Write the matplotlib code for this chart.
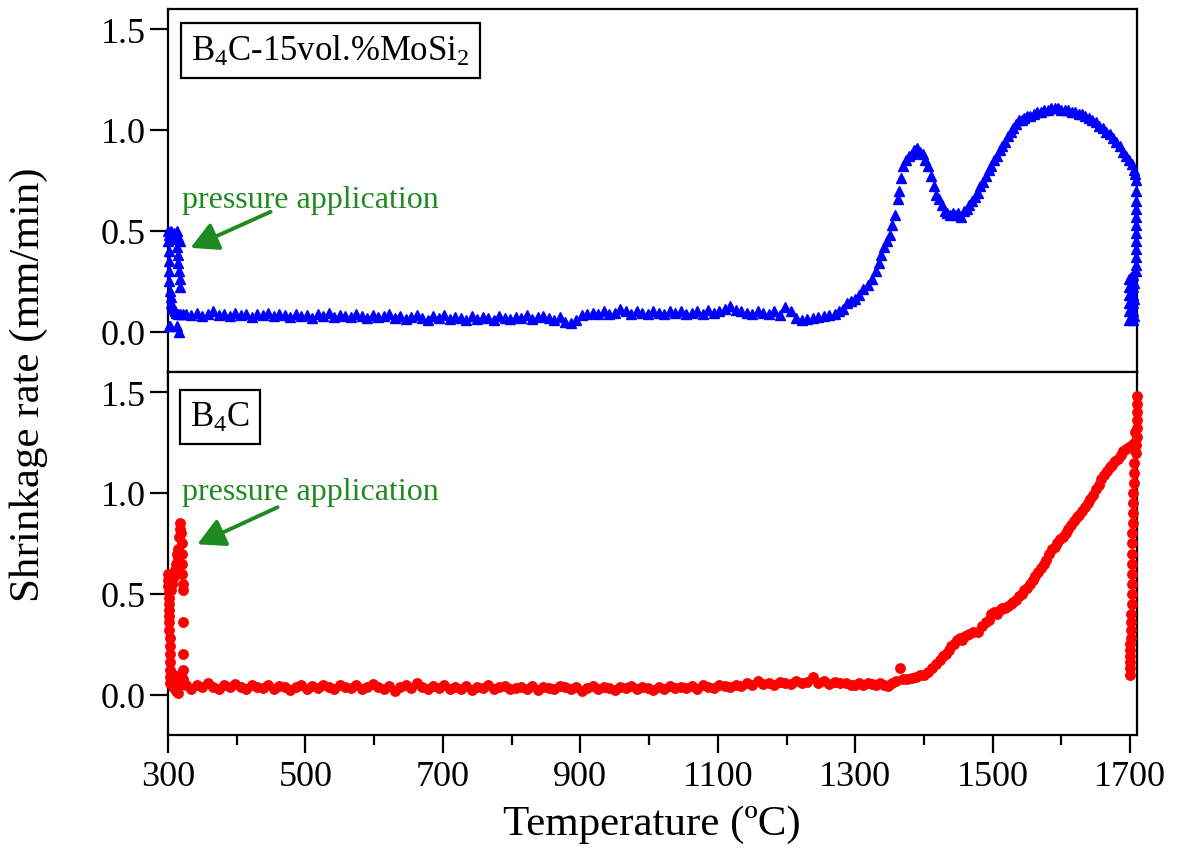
import matplotlib
matplotlib.use("Agg")
import matplotlib.pyplot as plt
from matplotlib.ticker import MultipleLocator
from matplotlib.patches import FancyArrowPatch

plt.rcParams['font.family'] = ['Liberation Serif', 'DejaVu Serif']
plt.rcParams['mathtext.fontset'] = 'custom'
plt.rcParams['mathtext.rm'] = 'Liberation Serif'
plt.rcParams['mathtext.it'] = 'Liberation Serif:italic'

# ---------------- data: B4C-15vol.%MoSi2 (blue triangles) ----------------
mosi2_start_T = [300, 300, 301, 301, 302, 302, 302, 303, 304, 305, 306, 308, 310, 312, 315, 318, 322,
                 303, 305, 307, 309, 311, 313, 315, 317,
                 313, 314, 315, 316, 317, 318,
                 301, 303, 313, 316]
mosi2_start_rate = [0.50, 0.45, 0.48, 0.40, 0.35, 0.30, 0.25, 0.20, 0.17, 0.14, 0.12, 0.11, 0.10, 0.095, 0.09, 0.09, 0.09,
                    0.48, 0.50, 0.47, 0.49, 0.46, 0.50, 0.47, 0.45,
                    0.42, 0.38, 0.34, 0.30, 0.26, 0.22,
                    0.03, 0.03, 0.03, 0.00]

mosi2_flat_T = list(range(326, 1263, 8))
mosi2_flat_rate = [0.09, 0.085, 0.095, 0.08, 0.09, 0.10, 0.085, 0.09, 0.08, 0.095,
                   0.085, 0.09, 0.075, 0.09, 0.085, 0.095, 0.08, 0.09, 0.085, 0.075,
                   0.09, 0.08, 0.085, 0.07, 0.09, 0.08, 0.095, 0.075, 0.085, 0.08,
                   0.075, 0.09, 0.08, 0.07, 0.085, 0.075, 0.08, 0.09, 0.07, 0.08,
                   0.065, 0.075, 0.085, 0.07, 0.06, 0.08, 0.07, 0.085, 0.065, 0.075,
                   0.07, 0.06, 0.08, 0.065, 0.075, 0.07, 0.06, 0.08, 0.07, 0.065,
                   0.075, 0.07, 0.085, 0.065, 0.075, 0.08, 0.07, 0.06, 0.075, 0.05,
                   0.045, 0.06, 0.085, 0.09, 0.095, 0.09, 0.10, 0.09, 0.095, 0.11,
                   0.10, 0.09, 0.10, 0.095, 0.09, 0.10, 0.095, 0.09, 0.10, 0.095,
                   0.10, 0.09, 0.095, 0.10, 0.09, 0.105, 0.095, 0.10, 0.11, 0.125,
                   0.105, 0.10, 0.095, 0.09, 0.10, 0.095, 0.09, 0.10, 0.085, 0.12,
                   0.10, 0.07, 0.06, 0.065, 0.07, 0.075, 0.08, 0.085]

mosi2_curve_T = [1270, 1276, 1282, 1288, 1294, 1300, 1306, 1312, 1318, 1324, 1330, 1334, 1338, 1342, 1346,
                 1350, 1354, 1358, 1362, 1364, 1367, 1370, 1374, 1378, 1382, 1386, 1390, 1394, 1398, 1402,
                 1406, 1410, 1414, 1418, 1422, 1426, 1430, 1434, 1438, 1442, 1446, 1450, 1454, 1458, 1462,
                 1466, 1470, 1474, 1478, 1482, 1486, 1490, 1494, 1498, 1502, 1506, 1510, 1514, 1518, 1522,
                 1526, 1530, 1534, 1538, 1542, 1546, 1550, 1555, 1560, 1565, 1570, 1575, 1580, 1585, 1590,
                 1595, 1600, 1605, 1610, 1615, 1620, 1625, 1630, 1635, 1640, 1645, 1650, 1655, 1660, 1665,
                 1670, 1675, 1680, 1685, 1690, 1694, 1698, 1702, 1705, 1707]
mosi2_curve_rate = [0.09, 0.10, 0.11, 0.14, 0.15, 0.16, 0.18, 0.21, 0.23, 0.26, 0.30, 0.34, 0.38, 0.42, 0.45,
                    0.48, 0.53, 0.58, 0.66, 0.70, 0.76, 0.82, 0.85, 0.87, 0.88, 0.90, 0.91, 0.89, 0.88, 0.85,
                    0.82, 0.77, 0.72, 0.68, 0.66, 0.63, 0.60, 0.59, 0.58, 0.59, 0.58, 0.59, 0.57, 0.60, 0.61,
                    0.63, 0.65, 0.67, 0.69, 0.72, 0.74, 0.77, 0.80, 0.82, 0.85, 0.87, 0.90, 0.92, 0.94, 0.97,
                    0.99, 1.01, 1.03, 1.05, 1.05, 1.06, 1.07, 1.07, 1.08, 1.09, 1.09, 1.10, 1.10, 1.11, 1.11,
                    1.11, 1.10, 1.10, 1.10, 1.09, 1.09, 1.08, 1.08, 1.07, 1.06, 1.05, 1.04, 1.02, 1.01, 0.99,
                    0.98, 0.96, 0.94, 0.92, 0.89, 0.87, 0.85, 0.83, 0.80, 0.78]

mosi2_end_T = [1708, 1708, 1708, 1708, 1708, 1709, 1709, 1709, 1709, 1709, 1708, 1708,
               1698, 1698, 1698, 1698, 1698, 1698, 1701, 1701, 1701, 1701, 1701, 1701,
               1704, 1704, 1704, 1704, 1704, 1704, 1706, 1706, 1706]
mosi2_end_rate = [0.75, 0.70, 0.65, 0.61, 0.57, 0.53, 0.49, 0.45, 0.41, 0.37, 0.33, 0.30,
                  0.06, 0.10, 0.14, 0.18, 0.22, 0.26, 0.07, 0.11, 0.15, 0.19, 0.23, 0.27,
                  0.06, 0.10, 0.14, 0.18, 0.22, 0.28, 0.08, 0.16, 0.24]

# ---------------- data: B4C (red circles) ----------------
b4c_start_T = [300, 300, 300, 301, 301, 301, 302, 302, 302, 302, 303, 303, 303, 303, 303, 303, 303,
               304, 306, 307, 308, 310, 311,
               312, 313, 314, 315, 316, 317, 318, 319,
               320, 320, 321, 321, 322, 322,
               322, 322, 322, 322,
               305, 307, 309, 311, 313, 315, 317, 319]
b4c_start_rate = [0.60, 0.57, 0.54, 0.51, 0.48, 0.45, 0.42, 0.39, 0.36, 0.32, 0.28, 0.24, 0.20, 0.16, 0.12, 0.09, 0.06,
                  0.52, 0.55, 0.60, 0.58, 0.62, 0.60,
                  0.65, 0.70, 0.68, 0.72, 0.78, 0.82, 0.85, 0.80,
                  0.75, 0.70, 0.65, 0.60, 0.55, 0.52,
                  0.36, 0.20, 0.12, 0.08,
                  0.08, 0.04, 0.10, 0.02, 0.06, 0.01, 0.05, 0.09]

b4c_flat_T = list(range(326, 1295, 8))
b4c_flat_rate = [0.05, 0.03, 0.05, 0.04, 0.06, 0.04, 0.03, 0.05, 0.04, 0.055,
                 0.04, 0.03, 0.05, 0.04, 0.035, 0.05, 0.03, 0.045, 0.04, 0.025,
                 0.04, 0.05, 0.03, 0.045, 0.035, 0.05, 0.04, 0.03, 0.05, 0.04,
                 0.035, 0.05, 0.03, 0.04, 0.055, 0.04, 0.03, 0.045, 0.02, 0.04,
                 0.05, 0.035, 0.06, 0.04, 0.03, 0.045, 0.035, 0.05, 0.03, 0.04,
                 0.03, 0.045, 0.025, 0.04, 0.035, 0.05, 0.03, 0.04, 0.045, 0.03,
                 0.035, 0.04, 0.03, 0.045, 0.025, 0.04, 0.035, 0.03, 0.045, 0.04,
                 0.03, 0.04, 0.02, 0.035, 0.045, 0.03, 0.04, 0.035, 0.025, 0.04,
                 0.035, 0.045, 0.03, 0.04, 0.035, 0.025, 0.04, 0.03, 0.045, 0.035,
                 0.04, 0.035, 0.045, 0.03, 0.05, 0.04, 0.035, 0.05, 0.045, 0.04,
                 0.05, 0.045, 0.06, 0.05, 0.07, 0.055, 0.06, 0.05, 0.065, 0.06,
                 0.055, 0.07, 0.06, 0.065, 0.09, 0.06, 0.07, 0.055, 0.065, 0.06,
                 0.06, 0.05]

b4c_curve_T = [1300, 1306, 1312, 1318, 1324, 1330, 1336, 1342, 1348, 1354, 1360, 1365, 1370, 1376, 1382,
               1388, 1394, 1400, 1406, 1412, 1418, 1424, 1428, 1432, 1436, 1440, 1444, 1448, 1452, 1456,
               1460, 1466, 1472, 1478, 1484, 1490, 1494, 1498, 1502, 1506, 1510, 1514, 1518, 1522, 1526,
               1530, 1534, 1538, 1542, 1546, 1550, 1554, 1558, 1562, 1566, 1570, 1574, 1578, 1582, 1586,
               1590, 1594, 1598, 1602, 1606, 1610, 1614, 1618, 1622, 1626, 1630, 1634, 1638, 1642, 1646,
               1650, 1654, 1658, 1662, 1666, 1670, 1674, 1678, 1682, 1686, 1690, 1694, 1698, 1702, 1705]
b4c_curve_rate = [0.05, 0.06, 0.05, 0.06, 0.055, 0.05, 0.06, 0.05, 0.045, 0.06, 0.07, 0.13, 0.08, 0.08, 0.085,
                  0.09, 0.10, 0.10, 0.11, 0.13, 0.15, 0.17, 0.19, 0.20, 0.22, 0.24, 0.25, 0.27, 0.28, 0.27,
                  0.29, 0.30, 0.31, 0.31, 0.34, 0.36, 0.37, 0.40, 0.41, 0.40, 0.42, 0.43, 0.43, 0.44, 0.45,
                  0.46, 0.47, 0.49, 0.50, 0.52, 0.53, 0.55, 0.57, 0.59, 0.61, 0.63, 0.65, 0.67, 0.70, 0.72,
                  0.73, 0.75, 0.77, 0.78, 0.80, 0.82, 0.84, 0.86, 0.88, 0.89, 0.91, 0.93, 0.95, 0.97, 0.99,
                  1.02, 1.04, 1.07, 1.09, 1.11, 1.13, 1.14, 1.16, 1.17, 1.19, 1.21, 1.22, 1.23, 1.24, 1.25]

b4c_end_T = [1709, 1709, 1710, 1710, 1710, 1710, 1710, 1710, 1707, 1706,
             1705, 1705, 1705, 1704, 1704, 1704, 1704, 1703, 1703, 1703, 1703, 1702, 1702, 1702,
             1702, 1701, 1701, 1701, 1701, 1700, 1700, 1700, 1700, 1700, 1700]
b4c_end_rate = [1.20, 1.24, 1.28, 1.32, 1.36, 1.40, 1.44, 1.48, 1.30, 1.22,
                1.15, 1.10, 1.05, 1.00, 0.95, 0.90, 0.85, 0.80, 0.75, 0.70, 0.65, 0.60, 0.55, 0.50,
                0.45, 0.40, 0.36, 0.32, 0.28, 0.25, 0.22, 0.19, 0.16, 0.13, 0.10]

x_major = [300, 500, 700, 900, 1100, 1300, 1500, 1700]
y_major = [0.0, 0.5, 1.0, 1.5]

# ---------------- figure ----------------
fig = plt.figure(figsize=(11.85, 8.54), dpi=100)
L, R = 168 / 1185, 1137 / 1185
ax1 = fig.add_axes([L, 1 - 373 / 854, R - L, 363 / 854])
ax2 = fig.add_axes([L, 1 - 736 / 854, R - L, 363 / 854])

blue_T = mosi2_start_T + mosi2_flat_T + mosi2_curve_T + mosi2_end_T
blue_r = mosi2_start_rate + mosi2_flat_rate + mosi2_curve_rate + mosi2_end_rate
red_T = b4c_start_T + b4c_flat_T + b4c_curve_T + b4c_end_T
red_r = b4c_start_rate + b4c_flat_rate + b4c_curve_rate + b4c_end_rate

ax1.plot(blue_T, blue_r, linestyle='none', marker='^', ms=7.5, color='#0000ff', mec='#0000ff', clip_on=False, zorder=3)
ax2.plot(red_T, red_r, linestyle='none', marker='o', ms=6.8, color='#ff0000', mec='#ff0000', clip_on=False, zorder=3)

for ax in (ax1, ax2):
    ax.set_xlim(300, 1710)
    ax.set_ylim(-0.2, 1.6)
    ax.set_yticks(y_major)
    ax.set_yticklabels(['0.0', '0.5', '1.0', '1.5'])
    ax.xaxis.set_major_locator(MultipleLocator(200))
    ax.xaxis.set_minor_locator(MultipleLocator(100))
    ax.set_xticks(x_major)
    for s in ax.spines.values():
        s.set_linewidth(1.6)
    ax.tick_params(axis='y', which='major', direction='out', length=13, width=1.6,
                   labelsize=26, pad=3, right=False)
    ax.tick_params(axis='x', which='major', direction='out', length=13, width=1.6,
                   labelsize=26, pad=5, top=False)
    ax.tick_params(axis='x', which='minor', direction='out', length=7, width=1.6, top=False)

ax1.tick_params(axis='x', which='both', labelbottom=False)
ax1.tick_params(axis='x', which='major', length=11)
ax1.tick_params(axis='x', which='minor', length=6)

ax1.text(0.024, 0.885, r'B$_4$C-15vol.%MoSi$_2$', transform=ax1.transAxes, fontsize=25,
         ha='left', va='center',
         bbox=dict(boxstyle='square,pad=0.3', fc='white', ec='black', lw=1.6))
ax2.text(0.023, 0.875, r'B$_4$C', transform=ax2.transAxes, fontsize=25,
         ha='left', va='center',
         bbox=dict(boxstyle='square,pad=0.3', fc='white', ec='black', lw=1.6))

green = '#1f8a1f'
ax1.text(320, 0.62, 'pressure application', color=green, fontsize=23, ha='left', va='baseline')
ax1.add_patch(FancyArrowPatch((453, 0.60), (329, 0.41), arrowstyle='-|>,head_length=0.75,head_width=0.4',
                              mutation_scale=22, color=green, lw=2.8, zorder=4))
ax2.text(320, 0.97, 'pressure application', color=green, fontsize=23, ha='left', va='baseline')
ax2.add_patch(FancyArrowPatch((463, 0.935), (339, 0.74), arrowstyle='-|>,head_length=0.75,head_width=0.4',
                              mutation_scale=22, color=green, lw=2.8, zorder=4))

fig.text(0.024, 0.55, 'Shrinkage rate (mm/min)', rotation=90, fontsize=31, ha='center', va='center')
fig.text(0.55, 0.034, 'Temperature (ºC)', fontsize=31, ha='center', va='center')

fig.savefig('out.png', dpi=100)
